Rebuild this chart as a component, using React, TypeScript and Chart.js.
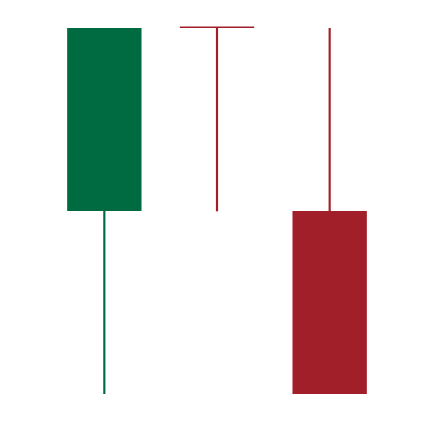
import React, { useEffect, useRef } from "react";
import { Chart, registerables } from "chart.js";

Chart.register(...registerables);

const categories = ["A", "B", "C"];
const opens = [50, 100, 50];
const highs = [100, 100, 100];
const lows = [0, 50, 0];
const closes = [100, 100, 0];

const UP = "#006A41";
const DOWN = "#A11F29";

export default function App() {
  const ref = useRef<HTMLCanvasElement | null>(null);
  useEffect(() => {
    if (!ref.current) return;
    const colors = categories.map((_, i) => (closes[i] > opens[i] ? UP : DOWN));
    const chart = new Chart(ref.current, {
      type: "bar",
      data: {
        labels: categories,
        datasets: [
          {
            label: "wick",
            data: categories.map((_, i) => [lows[i], highs[i]]),
            backgroundColor: colors,
            barThickness: 1.5,
            grouped: false,
            clip: 0,
            order: 2,
          } as any,
          {
            label: "body",
            data: categories.map((_, i) => [opens[i], closes[i]]),
            backgroundColor: colors,
            barPercentage: 0.66,
            categoryPercentage: 1,
            minBarLength: 1.5,
            grouped: false,
            clip: 5,
            order: 1,
          } as any,
        ],
      },
      options: {
        animation: false,
        responsive: true,
        maintainAspectRatio: false,
        layout: { padding: { left: 40, right: 40, top: 20, bottom: 20 } },
        plugins: { legend: { display: false }, tooltip: { enabled: false } },
        scales: {
          x: { display: false },
          y: { display: false, min: 0, max: 100 },
        },
      },
    });
    return () => chart.destroy();
  }, []);
  return (
    <div style={{ height: 406, position: "relative" }}>
      <canvas ref={ref} />
    </div>
  );
}
